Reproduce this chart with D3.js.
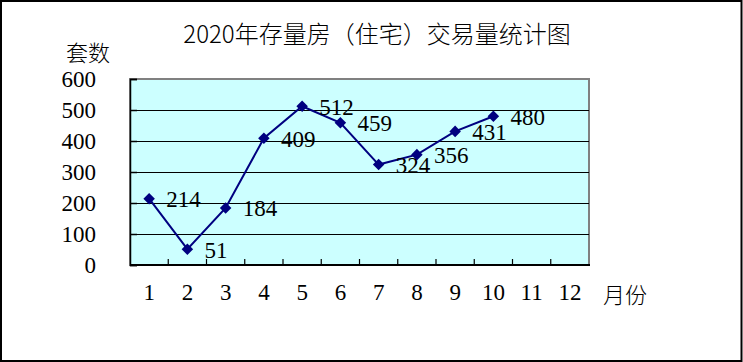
<!DOCTYPE html>
<html>
<head>
<meta charset="utf-8">
<script src="https://cdn.jsdelivr.net/npm/d3@7"></script>
<style>
  html, body { margin: 0; padding: 0; background: #fff; }
  #chart { width: 743px; height: 362px; }
  svg { display: block; }
</style>
</head>
<body>
<div id="chart"></div>
<script>
// Data
const months = ["1", "2", "3", "4", "5", "6", "7", "8", "9", "10", "11", "12"];
const dealMonths = ["1", "2", "3", "4", "5", "6", "7", "8", "9", "10"];
const deals = [214, 51, 184, 409, 512, 459, 324, 356, 431, 480];
const yTicks = [0, 100, 200, 300, 400, 500, 600];

const width = 743, height = 362;
const plot = { left: 130, top: 79, right: 589, bottom: 265 };
const numFont = "'Liberation Serif', 'DejaVu Serif', serif";
const cjkFont = "'Noto Sans CJK SC', sans-serif";

const svg = d3.select("#chart").append("svg")
    .attr("width", width)
    .attr("height", height);

// outer frame
svg.append("rect")
    .attr("x", 1).attr("y", 1)
    .attr("width", width - 2.5).attr("height", height - 2)
    .attr("fill", "#fff")
    .attr("stroke", "#000")
    .attr("stroke-width", 2);

const x = d3.scaleBand()
    .domain(months)
    .range([plot.left, plot.right]);

const y = d3.scaleLinear()
    .domain([0, 600])
    .range([plot.bottom, plot.top]);

// plot area
svg.append("rect")
    .attr("x", plot.left).attr("y", plot.top)
    .attr("width", plot.right - plot.left)
    .attr("height", plot.bottom - plot.top)
    .attr("fill", "#ccffff")
    .attr("stroke", "#808080")
    .attr("stroke-width", 2);

// gridlines
svg.append("g")
    .selectAll("line")
    .data(yTicks.filter(d => d > 0 && d < 600))
    .join("line")
    .attr("x1", plot.left).attr("x2", plot.right)
    .attr("y1", d => Math.round(y(d)) + 0.5)
    .attr("y2", d => Math.round(y(d)) + 0.5)
    .attr("stroke", "#000")
    .attr("stroke-width", 1.2);

// y axis (ticks inward)
const yAxis = svg.append("g")
    .attr("transform", `translate(${plot.left},0)`)
    .call(d3.axisRight(y).tickValues(yTicks).tickSize(7).tickFormat(""));
yAxis.select(".domain").attr("stroke", "#000").attr("stroke-width", 1.5);
yAxis.selectAll(".tick line").attr("stroke", "#000").attr("stroke-width", 1.5);

svg.append("g")
    .selectAll("text")
    .data(yTicks)
    .join("text")
    .attr("x", 96)
    .attr("y", d => y(d))
    .attr("dy", "0.34em")
    .attr("text-anchor", "end")
    .style("font", `23px ${numFont}`)
    .text(d => d);

// x axis: ticks between categories, pointing up
const xAxis = svg.append("g")
    .attr("transform", `translate(0,${plot.bottom})`);
xAxis.append("line")
    .attr("x1", plot.left).attr("x2", plot.right + 1)
    .attr("stroke", "#000")
    .attr("stroke-width", 2);
xAxis.selectAll(".tk")
    .data(months.slice(1))
    .join("line")
    .attr("class", "tk")
    .attr("x1", d => x(d)).attr("x2", d => x(d))
    .attr("y1", 0).attr("y2", -6)
    .attr("stroke", "#000")
    .attr("stroke-width", 1.2);

svg.append("g")
    .selectAll("text")
    .data(months)
    .join("text")
    .attr("x", d => x(d) + x.bandwidth() / 2)
    .attr("y", 300)
    .attr("text-anchor", "middle")
    .style("font", `23px ${numFont}`)
    .text(d => d);

// line + diamonds
const cx = d => x(d) + x.bandwidth() / 2;
const line = d3.line()
    .x((d, i) => cx(dealMonths[i]))
    .y(d => y(d));

svg.append("path")
    .datum(deals)
    .attr("d", line)
    .attr("fill", "none")
    .attr("stroke", "#000080")
    .attr("stroke-width", 2);

const diamond = d3.symbol().type(d3.symbolDiamond2).size(85);
svg.append("g")
    .selectAll("path")
    .data(deals)
    .join("path")
    .attr("d", diamond)
    .attr("transform", (d, i) => `translate(${cx(dealMonths[i])},${y(d)})`)
    .attr("fill", "#000080");

svg.append("g")
    .selectAll("text")
    .data(deals)
    .join("text")
    .attr("x", (d, i) => cx(dealMonths[i]) + 17)
    .attr("y", d => y(d) + 8.5)
    .style("font", `23px ${numFont}`)
    .text(d => d);

// titles
svg.append("text")
    .attr("x", 377)
    .attr("y", 43)
    .attr("text-anchor", "middle")
    .style("font", `24px ${cjkFont}`)
    .style("font-weight", 300)
    .text("2020年存量房（住宅）交易量统计图");

svg.append("text")
    .attr("x", 66)
    .attr("y", 61)
    .style("font", `22px ${cjkFont}`)
    .style("font-weight", 300)
    .text("套数");

svg.append("text")
    .attr("x", 603)
    .attr("y", 303)
    .style("font", `22px ${cjkFont}`)
    .style("font-weight", 300)
    .text("月份");
</script>
</body>
</html>
